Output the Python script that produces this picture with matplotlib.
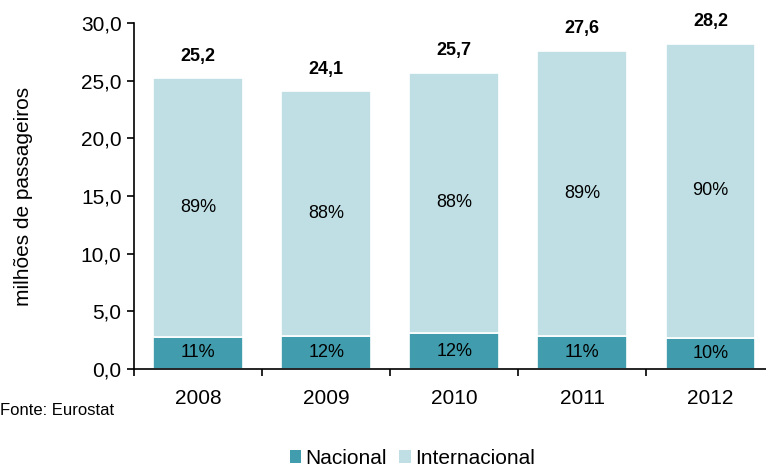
import matplotlib.pyplot as plt
from matplotlib.patches import Patch
import numpy as np

plt.rcParams['font.family'] = ['Liberation Sans', 'DejaVu Sans']

years = ['2008', '2009', '2010', '2011', '2012']
totals = [25.2, 24.1, 25.7, 27.6, 28.2]
nacional = [2.8, 2.9, 3.1, 2.9, 2.7]
pct_nacional = ['11%', '12%', '12%', '11%', '10%']
pct_internacional = ['89%', '88%', '88%', '89%', '90%']

internacional = [t - n for t, n in zip(totals, nacional)]

c_nac = '#419dad'
c_int = '#bfdfe4'

fig = plt.figure(figsize=(7.66, 4.69), dpi=100)
ax = fig.add_axes([0.175, 0.213, 0.836, 0.738])

x = np.arange(len(years))
ax.bar(x, nacional, 0.7, color=c_nac, edgecolor='white', linewidth=1.2)
ax.bar(x, internacional, 0.7, bottom=nacional, color=c_int, edgecolor='white', linewidth=1.2)

for i in range(len(years)):
    ax.text(x[i], nacional[i] / 2, pct_nacional[i], ha='center', va='center', fontsize=13)
    ax.text(x[i], nacional[i] + internacional[i] / 2, pct_internacional[i],
            ha='center', va='center', fontsize=13)
    ax.text(x[i], totals[i] + 1.9, f'{totals[i]:.1f}'.replace('.', ','),
            ha='center', va='center', fontsize=13, fontweight='bold')

ax.set_xlim(-0.5, 4.5)
ax.set_ylim(0, 30)
ax.set_yticks(np.arange(0, 31, 5))
ax.set_yticklabels([f'{v:.1f}'.replace('.', ',') for v in np.arange(0, 31, 5)], fontsize=15)
ax.set_xticks(x)
ax.set_xticklabels(years, fontsize=15)
ax.set_xticks(np.arange(-0.5, 4.6, 1), minor=True)
ax.tick_params(axis='x', which='major', length=0, pad=14)
ax.tick_params(axis='x', which='minor', length=5, width=1.2)
ax.tick_params(axis='y', length=5, width=1.2, pad=4)
ax.spines['top'].set_visible(False)
ax.spines['right'].set_visible(False)
ax.spines['left'].set_linewidth(1.2)
ax.spines['bottom'].set_linewidth(1.2)
ax.set_ylabel('milhões de passageiros', fontsize=15)
ax.yaxis.set_label_coords(-0.158, 0.5)

fig.text(0.0, 0.125, 'Fonte: Eurostat', fontsize=12, va='center')
handles = [Patch(facecolor=c_nac, label='Nacional'), Patch(facecolor=c_int, label='Internacional')]
fig.legend(handles=handles, loc='lower center', bbox_to_anchor=(0.538, -0.038), ncol=2,
           frameon=False, fontsize=15, handlelength=0.55, handleheight=0.55,
           handletextpad=0.2, columnspacing=0.6)

fig.savefig('out.png', dpi=100)
